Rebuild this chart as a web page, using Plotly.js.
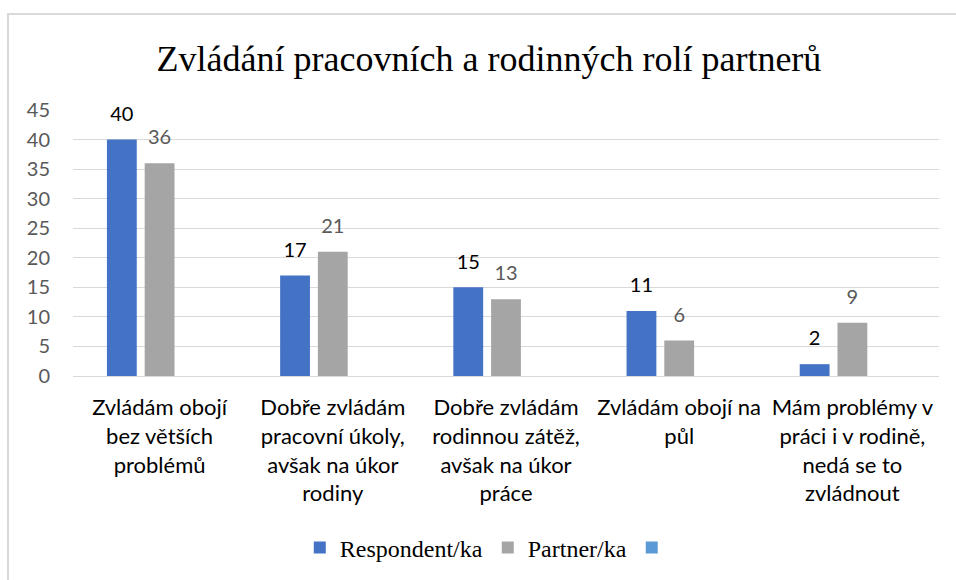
<!DOCTYPE html>
<html>
<head>
<meta charset="utf-8">
<script src="https://cdn.plot.ly/plotly-3.0.1.min.js"></script>
<style>
html,body{margin:0;padding:0;background:#fff;overflow:hidden;}
#chart{position:absolute;left:0;top:0;width:956px;height:580px;}
#frame{position:absolute;left:7px;top:13px;width:1200px;height:1000px;border:2px solid #d9d9d9;pointer-events:none;}
</style>
</head>
<body>
<div id="chart"></div>
<div id="frame"></div>
<script>
const categories = [
  "Zvládám obojí<br>bez větších<br>problémů",
  "Dobře zvládám<br>pracovní úkoly,<br>avšak na úkor<br>rodiny",
  "Dobře zvládám<br>rodinnou zátěž,<br>avšak na úkor<br>práce",
  "Zvládám obojí na<br>půl",
  "Mám problémy v<br>práci i v rodině,<br>nedá se to<br>zvládnout"
];
const respondent = [40, 17, 15, 11, 2];
const partner = [36, 21, 13, 6, 9];
const third = [null, null, null, null, null];
const seriesNames = ["Respondent/ka", "Partner/ka", " "];
const yTicks = [0, 5, 10, 15, 20, 25, 30, 35, 40, 45];

const sans = "Lato, 'Open Sans', sans-serif";
const serif = "'Liberation Serif', serif";
const colors = ["#4472C4", "#A5A5A5", "#5B9BD5"];
const labelColors = ["#000000", "#595959"];
const series = [respondent, partner, third];

const traces = [];
// visible bars
series.forEach((vals, i) => {
  traces.push({type: "bar", name: seriesNames[i], x: categories, y: vals,
    marker: {color: colors[i]}, xaxis: "x", yaxis: "y"});
});
// data labels (transparent bars on a slightly shifted overlay axis to lift labels like Excel)
series.forEach((vals, i) => {
  const t = {type: "bar", name: seriesNames[i], x: categories, y: vals, showlegend: false,
    marker: {color: "rgba(0,0,0,0)"}, xaxis: "x", yaxis: "y2", cliponaxis: false};
  if (i < 2) {
    t.text = vals.map(String);
    t.textposition = "outside";
    t.textfont = {family: sans, size: 20, color: labelColors[i]};
  }
  traces.push(t);
});

const layout = {
  width: 956, height: 580,
  margin: {l: 73, r: 17, t: 110, b: 204},
  paper_bgcolor: "#ffffff", plot_bgcolor: "#ffffff",
  title: {text: "Zvládání pracovních a rodinných rolí partnerů",
          font: {family: serif, size: 36, color: "#000000"},
          x: 489/956, xanchor: "center", y: 0.9, yanchor: "middle", yref: "container"},
  barmode: "group", bargap: 0.346, bargroupgap: 0.21,
  xaxis: {type: "category", tickfont: {family: sans, size: 22, color: "#000000"},
          showgrid: false, showline: true, linecolor: "#d9d9d9", linewidth: 1,
          ticks: "outside", ticklen: 12, tickcolor: "rgba(0,0,0,0)", fixedrange: true},
  yaxis: {range: [0, 45], tickvals: yTicks, tickfont: {family: sans, size: 20, color: "#595959"},
          showgrid: true, gridcolor: "#d9d9d9", gridwidth: 1, zeroline: false,
          ticks: "outside", ticklen: 18, tickcolor: "rgba(0,0,0,0)", fixedrange: true},
  yaxis2: {overlaying: "y", range: [-2, 43], visible: false, fixedrange: true},
  legend: {orientation: "h", x: 0.483, xanchor: "center", y: 32/580, yref: "container", yanchor: "middle",
           font: {family: serif, size: 24, color: "#000000"},
           traceorder: "normal"},
  showlegend: true
};

Plotly.newPlot("chart", traces, layout, {displayModeBar: false, staticPlot: true});
</script>
</body>
</html>
